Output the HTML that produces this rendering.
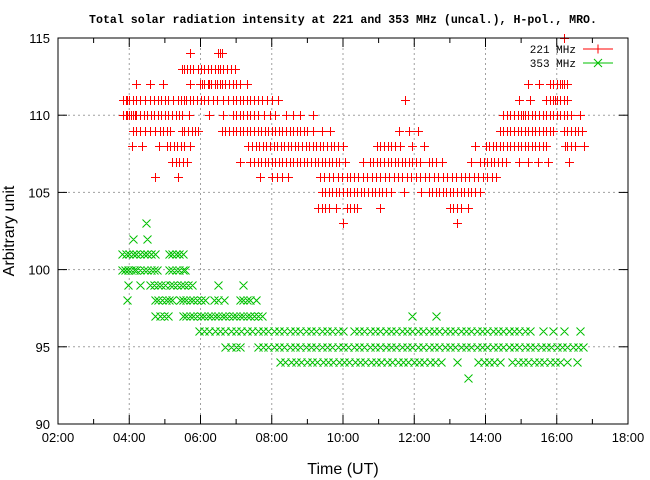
<!DOCTYPE html>
<html><head><meta charset="utf-8"><style>
html,body{margin:0;padding:0;background:#fff;}
svg{display:block;font-family:"Liberation Sans",sans-serif;}
</style></head><body>
<svg id="chart" width="650" height="480" viewBox="0 0 650 480" xmlns="http://www.w3.org/2000/svg">
<rect x="0" y="0" width="650" height="480" fill="#fff"/>
<text x="343" y="23" text-anchor="middle" font-family="Liberation Mono, monospace" font-weight="bold" font-size="11.6">Total solar radiation intensity at 221 and 353 MHz (uncal.), H-pol., MRO.</text>
<g id="grid"></g>
<g id="marks"></g>
<g id="axes"></g>
<text x="343" y="474" text-anchor="middle" font-size="16">Time (UT)</text>
<text x="14" y="231" text-anchor="middle" font-size="16" transform="rotate(-90 14 231)">Arbitrary unit</text>
<g>
<text x="576" y="53" text-anchor="end" font-family="Liberation Mono, monospace" font-size="11">221 MHz</text>
<line x1="583" y1="49" x2="613" y2="49" stroke="#f00" stroke-width="1"/>
<path d="M593.5 49h9M598 44.5v9" stroke="#f00" stroke-width="1"/>
<text x="576" y="67" text-anchor="end" font-family="Liberation Mono, monospace" font-size="11">353 MHz</text>
<line x1="583" y1="63" x2="613" y2="63" stroke="#00c000" stroke-width="1"/>
<path d="M594 59l8 8M594 67l8 -8" stroke="#00c000" stroke-width="1"/>
</g>
</svg>
<script>
const xTicks = [2,4,6,8,10,12,14,16,18];
const xTickLabels = ["02:00","04:00","06:00","08:00","10:00","12:00","14:00","16:00","18:00"];
const yTicks = [90,95,100,105,110,115];
const s221 = [
[115,[16.2]],
[114,[5.7,6.5,6.55,6.6]],
[113,[5.48,5.55,5.62,5.7,5.79,5.93,6.0,6.1,6.2,6.3,6.4,6.5,6.55,6.62,6.75,6.85,6.97]],
[112,[4.19,4.58,4.95,5.7,5.99,6.05,6.1,6.2,6.25,6.3,6.4,6.45,6.55,6.6,6.7,6.8,6.9,7.0,7.1,7.3,15.2,15.5,15.8,15.9,16.0,16.1,16.15,16.2,16.3]],
[111,[3.83,3.9,3.95,4.0,4.1,4.2,4.3,4.45,4.58,4.7,4.8,4.9,5.0,5.1,5.23,5.37,5.45,5.55,5.6,5.7,5.8,5.9,6.0,6.1,6.21,6.35,6.45,6.63,6.77,6.9,7.0,7.1,7.2,7.3,7.4,7.5,7.6,7.73,7.87,8.0,8.18,11.74,14.94,15.25,15.7,15.8,15.9,15.95,16.0,16.1,16.2,16.3]],
[110,[3.83,3.9,3.95,4.0,4.05,4.1,4.15,4.2,4.3,4.4,4.5,4.6,4.7,4.8,4.9,5.0,5.1,5.2,5.3,5.4,5.48,5.68,6.24,6.63,6.9,7.0,7.1,7.2,7.3,7.4,7.5,7.6,7.77,7.95,8.1,8.4,8.6,8.8,9.16,14.5,14.6,14.7,14.8,14.9,15.0,15.05,15.1,15.2,15.3,15.4,15.5,15.6,15.7,15.8,15.9,16.0,16.1,16.2,16.3,16.4,16.65]],
[109,[4.1,4.2,4.3,4.45,4.58,4.72,4.85,4.95,5.05,5.14,5.48,5.55,5.65,5.76,5.85,5.93,6.6,6.7,6.8,6.9,7.0,7.1,7.2,7.3,7.4,7.5,7.6,7.7,7.8,7.9,8.0,8.1,8.2,8.3,8.4,8.5,8.6,8.7,8.8,8.9,9.0,9.15,9.41,9.64,11.57,11.85,12.1,14.4,14.5,14.6,14.7,14.8,14.9,15.0,15.1,15.2,15.3,15.4,15.5,15.6,15.7,15.8,15.9,16.2,16.3,16.4,16.5,16.6,16.7]],
[108,[4.08,4.36,4.84,5.06,5.15,5.25,5.35,5.45,5.55,5.71,7.33,7.45,7.55,7.65,7.75,7.85,7.95,8.05,8.15,8.25,8.35,8.45,8.55,8.65,8.75,8.85,8.95,9.05,9.15,9.25,9.35,9.45,9.55,9.65,9.75,9.85,10.0,10.95,11.05,11.15,11.25,11.35,11.45,11.6,11.94,12.27,13.7,14.0,14.1,14.2,14.3,14.4,14.5,14.6,14.7,14.8,14.9,15.0,15.1,15.2,15.3,15.4,15.5,15.6,15.7,16.23,16.3,16.4,16.5,16.76]],
[107,[5.2,5.3,5.4,5.5,5.62,7.1,7.4,7.5,7.6,7.7,7.8,7.9,8.0,8.1,8.2,8.3,8.4,8.5,8.6,8.7,8.8,8.9,9.0,9.1,9.2,9.3,9.4,9.5,9.6,9.7,9.8,9.9,10.05,10.56,10.76,10.85,10.95,11.05,11.15,11.25,11.35,11.45,11.55,11.65,11.75,11.85,11.95,12.05,12.16,12.41,12.5,12.6,12.78,13.59,13.85,13.95,14.05,14.15,14.25,14.35,14.45,14.58,14.94,15.19,15.47,15.75,16.34]],
[106,[4.72,5.37,7.67,8.0,8.15,8.3,8.45,9.35,9.47,9.6,9.72,9.85,9.97,10.1,10.2,10.3,10.42,10.55,10.67,10.8,10.92,11.05,11.17,11.3,11.42,11.55,11.67,11.8,11.92,12.05,12.17,12.3,12.42,12.55,12.67,12.8,12.92,13.05,13.17,13.3,13.42,13.55,13.67,13.8,13.92,14.05,14.17,14.3]],
[105,[9.4,9.5,9.6,9.7,9.8,9.9,10.0,10.1,10.2,10.3,10.4,10.5,10.6,10.7,10.8,10.9,11.0,11.1,11.2,11.35,11.72,12.2,12.4,12.5,12.6,12.7,12.8,12.9,13.0,13.1,13.2,13.3,13.4,13.5,13.6,13.7,13.85]],
[104,[9.3,9.4,9.5,9.6,9.8,10.1,10.2,10.3,10.4,11.04,13.0,13.1,13.2,13.3,13.5]],
[103,[10.0,13.2]]
];
const s353 = [
[103,[4.47]],
[102,[4.1,4.5]],
[101,[3.8,3.9,4.0,4.1,4.2,4.3,4.4,4.5,4.6,4.72,5.12,5.2,5.3,5.4,5.5]],
[100,[3.8,3.88,3.96,4.04,4.12,4.2,4.3,4.4,4.5,4.6,4.7,4.78,5.12,5.2,5.3,5.4,5.5,5.57]],
[99,[3.96,4.3,4.58,4.7,4.8,4.9,5.0,5.14,5.23,5.35,5.45,5.55,5.65,5.76,6.5,7.2]],
[98,[3.94,4.72,4.82,4.92,5.02,5.12,5.2,5.42,5.5,5.6,5.7,5.8,5.9,6.0,6.13,6.38,6.5,6.66,7.1,7.2,7.3,7.4,7.56]],
[97,[4.72,4.85,4.97,5.1,5.5,5.6,5.7,5.8,5.9,6.0,6.1,6.2,6.3,6.4,6.5,6.6,6.7,6.8,6.9,7.0,7.1,7.2,7.3,7.4,7.5,7.6,7.73,11.94,12.6]],
[96,[5.95,6.1,6.25,6.4,6.55,6.7,6.85,7.0,7.15,7.3,7.45,7.6,7.75,7.9,8.05,8.2,8.35,8.5,8.65,8.8,8.95,9.1,9.25,9.4,9.55,9.7,9.85,10.0,10.3,10.45,10.6,10.75,10.9,11.05,11.2,11.35,11.5,11.65,11.8,11.95,12.1,12.25,12.4,12.55,12.7,12.85,13.0,13.15,13.3,13.45,13.6,13.75,13.9,14.05,14.2,14.35,14.5,14.65,14.8,14.95,15.1,15.25,15.6,15.9,16.2,16.65]],
[95,[6.7,6.85,7.0,7.1,7.6,7.75,7.9,8.05,8.2,8.35,8.5,8.65,8.8,8.95,9.1,9.25,9.4,9.55,9.7,9.85,10.0,10.15,10.3,10.45,10.6,10.75,10.9,11.05,11.2,11.35,11.5,11.65,11.8,11.95,12.1,12.25,12.4,12.55,12.7,12.85,13.0,13.15,13.3,13.45,13.6,13.75,13.9,14.05,14.2,14.35,14.5,14.65,14.8,14.95,15.1,15.25,15.4,15.55,15.7,15.85,16.0,16.15,16.3,16.45,16.6,16.75]],
[94,[8.23,8.38,8.53,8.68,8.83,8.98,9.13,9.28,9.43,9.58,9.73,9.88,10.03,10.18,10.33,10.48,10.63,10.78,10.93,11.08,11.23,11.38,11.53,11.68,11.83,11.98,12.13,12.28,12.43,12.58,12.75,13.2,13.8,13.95,14.1,14.25,14.4,14.75,14.9,15.05,15.2,15.35,15.5,15.65,15.8,15.95,16.1,16.3,16.56]],
[93,[13.5]]
];
const X0=58,X1=628,Y0=424,Y1=38;
function xs(h){return X0+(h-2)/(18-2)*(X1-X0);}
function ys(v){return Y0-(v-90)/(115-90)*(Y0-Y1);}
const NS="http://www.w3.org/2000/svg";
const grid=document.getElementById('grid'),axes=document.getElementById('axes'),marks=document.getElementById('marks');
function mk(tag,attrs,parent){const e=document.createElementNS(NS,tag);for(const k in attrs)e.setAttribute(k,attrs[k]);parent.appendChild(e);return e;}
xTicks.forEach((t,i)=>{
  const x=xs(t);
  if(i>0&&i<xTicks.length-1){const g=mk('line',{x1:x,y1:Y1,x2:x,y2:Y0,stroke:'#a0a0a0','stroke-dasharray':'2,3'},grid);
  
  }
  mk('line',{x1:x,y1:Y0,x2:x,y2:Y0-9,stroke:'#000'},axes);
  mk('line',{x1:x,y1:Y1,x2:x,y2:Y1+9,stroke:'#000'},axes);
  const lb=mk('text',{x:x,y:Y0+18,'text-anchor':'middle','font-size':'13'},axes);
  lb.textContent=xTickLabels[i];
  
  
  if(i<xTicks.length-1){const xm=xs(t+1);
  mk('line',{x1:xm,y1:Y0,x2:xm,y2:Y0-5,stroke:'#000'},axes);
  mk('line',{x1:xm,y1:Y1,x2:xm,y2:Y1+5,stroke:'#000'},axes);}
});
yTicks.forEach((t,i)=>{
  const y=ys(t);
  if(i>0&&i<yTicks.length-1){const g=mk('line',{x1:X0,y1:y,x2:X1,y2:y,stroke:'#a0a0a0','stroke-dasharray':'2,3'},grid);
  
  }
  mk('line',{x1:X0,y1:y,x2:X0+9,y2:y,stroke:'#000'},axes);
  mk('line',{x1:X1,y1:y,x2:X1-9,y2:y,stroke:'#000'},axes);
  const lb=mk('text',{x:X0-8,y:y+5,'text-anchor':'end','font-size':'13'},axes);
  lb.textContent=String(t);
  
  
});
mk('rect',{x:X0,y:Y1,width:X1-X0,height:Y0-Y1,fill:'none',stroke:'#000'},axes);
function plot(series,color,kind,name){
  let d='';
  series.forEach(([v,ts])=>{ts.forEach(t=>{
    const x=Math.round(xs(t))+0.5,y=Math.round(ys(v))+0.5;
    if(kind==='plus')d+=`M${x-4.5} ${y}h9M${x} ${y-4.5}v9`;
    else d+=`M${x-4} ${y-4}l8 8M${x-4} ${y+4}l8 -8`;
  });});
  const p=mk('path',{d:d,stroke:color,'stroke-width':1,fill:'none'},marks);
  
  
}
plot(s353,'#00c000','x','series-353mhz-points');
plot(s221,'#ff0000','plus','series-221mhz-points');
</script>
</body></html>
